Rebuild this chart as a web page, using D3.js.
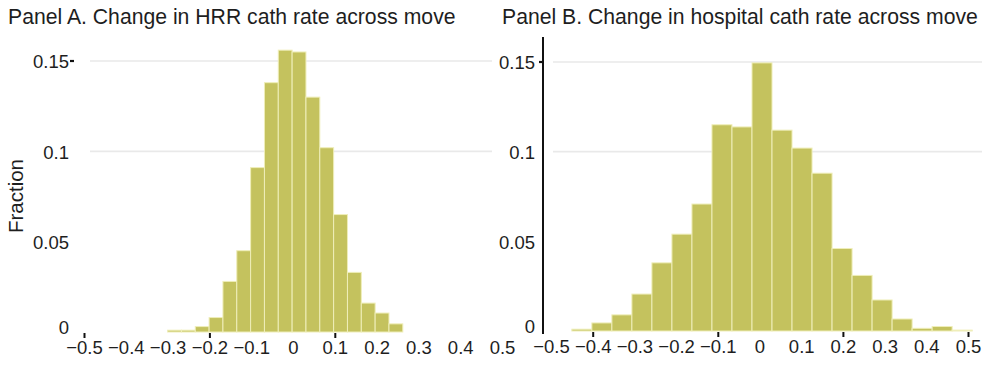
<!DOCTYPE html>
<html>
<head>
<meta charset="utf-8">
<script src="https://cdn.jsdelivr.net/npm/d3@7"></script>
<style>
  html, body { margin: 0; padding: 0; background: #fff; }
  svg { display: block; font-family: "Liberation Sans", Arial, Helvetica, sans-serif; }
</style>
</head>
<body>
<svg id="chart" width="990" height="382"></svg>
<script>
// Panel A: change in HRR cath rate across move (histogram, fraction per bin)
const binStartA = -0.3;
const binWidthA = 0.0331;
const fractionsA = [0.001, 0.001, 0.003, 0.008, 0.028, 0.045, 0.091, 0.138, 0.156,
                    0.155, 0.130, 0.102, 0.065, 0.033, 0.016, 0.0105, 0.0045];

// Panel B: change in hospital cath rate across move
const binStartB = -0.45;
const binWidthB = 0.048;
const fractionsB = [0.001, 0.0045, 0.009, 0.0206, 0.038, 0.054, 0.0708, 0.115, 0.1138,
                    0.1495, 0.112, 0.102, 0.088, 0.046, 0.031, 0.0173, 0.0067, 0.0015,
                    0.0025, 0.0005];

const xTickLabels = [-0.5, -0.4, -0.3, -0.2, -0.1, 0, 0.1, 0.2, 0.3, 0.4, 0.5];
const yTickLabels = [0, 0.05, 0.1, 0.15];
const gridValues = [0.1, 0.15];
const xMarksA = [-0.5, -0.2, 0.1];
const xMarksB = [-0.4, -0.1, 0.2, 0.5];
const titleA = "Panel A. Change in HRR cath rate across move";
const titleB = "Panel B. Change in hospital cath rate across move";
const yTitle = "Fraction";

const svg = d3.select("#chart");
const barFill = "#c4c25e";
const barEdge = "#efeeb9";
const textColor = "#1e1e1e";
const tickFont = 18.5;

const fmtX = d => d === 0 ? "0" : d3.format(".1f")(d);
const fmtY = d => d === 0 ? "0" : d3.format(".2~f")(d);

function panel(opt) {
  const x = d3.scaleLinear().domain([-0.5, 0.5]).range(opt.xRange);
  const y = d3.scaleLinear().domain([0, 0.15]).range(opt.yRange);
  const g = svg.append("g");

  // horizontal guide lines
  g.selectAll("line.grid").data(gridValues).join("line")
    .attr("class", "grid")
    .attr("x1", opt.gridX[0]).attr("x2", opt.gridX[1])
    .attr("y1", d => y(d)).attr("y2", d => y(d))
    .attr("stroke", "#e9e9e9").attr("stroke-width", 1.6);

  // histogram bars
  const bins = opt.values.map((v, i) => ({ x0: opt.start + i * opt.width, v }));
  g.selectAll("rect.bar").data(bins).join("rect")
    .attr("class", "bar")
    .attr("x", d => x(d.x0))
    .attr("width", d => x(d.x0 + opt.width) - x(d.x0))
    .attr("y", d => y(d.v))
    .attr("height", d => y(0) - y(d.v))
    .attr("fill", barFill)
    .attr("stroke", barEdge)
    .attr("stroke-width", 1);

  // x tick labels
  const xAxis = g.append("g")
    .attr("transform", `translate(0,${y(0)})`)
    .call(d3.axisBottom(x).tickValues(xTickLabels).tickFormat(fmtX).tickSize(0).tickPadding(9));
  xAxis.select(".domain").remove();
  xAxis.selectAll("text").attr("fill", textColor).attr("font-size", tickFont)
    .attr("font-family", "Liberation Sans, Arial, sans-serif");

  // x tick marks
  const xMarks = g.append("g")
    .attr("transform", `translate(0,${y(0) + 1})`)
    .call(d3.axisBottom(x).tickValues(opt.xMarks).tickFormat("").tickSize(5));
  xMarks.select(".domain").remove();
  xMarks.selectAll("line").attr("stroke", "#111").attr("stroke-width", 2);

  // y tick labels
  const yAxis = g.append("g")
    .attr("transform", `translate(${opt.yAxisX},0)`)
    .call(d3.axisLeft(y).tickValues(yTickLabels).tickFormat(fmtY).tickSize(0).tickPadding(opt.yPad));
  yAxis.select(".domain").remove();
  yAxis.selectAll("text").attr("fill", textColor).attr("font-size", tickFont)
    .attr("font-family", "Liberation Sans, Arial, sans-serif")
    .attr("dy", d => d === 0 ? "0.1em" : "0.36em");

  // short tick at the top value
  g.append("line")
    .attr("x1", opt.yAxisX - 4).attr("x2", opt.yAxisX)
    .attr("y1", y(0.15)).attr("y2", y(0.15))
    .attr("stroke", "#111").attr("stroke-width", 2.2);

  if (opt.axisLine) {
    g.append("line")
      .attr("x1", opt.yAxisX).attr("x2", opt.yAxisX)
      .attr("y1", opt.axisLine[0]).attr("y2", opt.axisLine[1])
      .attr("stroke", "#111").attr("stroke-width", 2);
  }

  // panel title
  g.append("text")
    .attr("x", opt.titleX).attr("y", 24)
    .attr("fill", textColor).attr("font-size", 21.2)
    .text(opt.title);
}

panel({
  xRange: [84, 502], yRange: [332, 61],
  gridX: [90, 492],
  start: binStartA, width: binWidthA, values: fractionsA,
  xMarks: xMarksA,
  yAxisX: 74, yPad: 5,
  title: titleA, titleX: 8
});

panel({
  xRange: [551, 968], yRange: [331, 62],
  gridX: [553, 982],
  start: binStartB, width: binWidthB, values: fractionsB,
  xMarks: xMarksB,
  yAxisX: 543, yPad: 8,
  axisLine: [37, 334],
  title: titleB, titleX: 502
});

// shared y-axis title
svg.append("text")
  .attr("transform", "translate(23,196) rotate(-90)")
  .attr("text-anchor", "middle")
  .attr("fill", textColor).attr("font-size", 20.5)
  .text(yTitle);
</script>
</body>
</html>
